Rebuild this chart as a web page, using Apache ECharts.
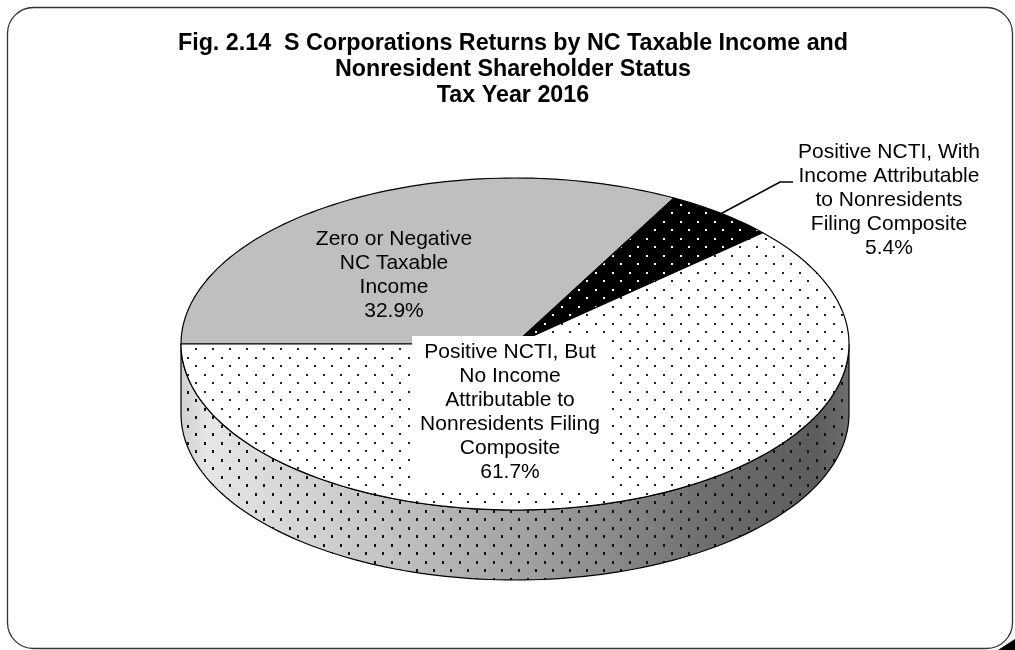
<!DOCTYPE html>
<html>
<head>
<meta charset="utf-8">
<script src="https://cdn.jsdelivr.net/npm/echarts@6/dist/echarts.min.js"></script>
<style>
  html, body { margin: 0; padding: 0; background: #fff; }
  #chart { width: 1015px; height: 650px; }
</style>
</head>
<body>
<div id="chart"></div>
<script>
// slice names as they are wrapped on the chart
const SLICE_NAMES = [
  "Zero or Negative\nNC Taxable\nIncome",
  "Positive NCTI, With\nIncome Attributable\nto Nonresidents\nFiling Composite",
  "Positive NCTI, But\nNo Income\nAttributable to\nNonresidents Filing\nComposite",
];
const SLICE_SHARES = [32.9, 5.4, 61.7];

const TITLE_LINES = [
  "Fig. 2.14  S Corporations Returns by NC Taxable Income and",
  "Nonresident Shareholder Status",
  "Tax Year 2016",
];

// layout (pixels) - kept apart from the data
const PIE = { cx: 515, cy: 344, rx: 334, ry: 166, depth: 70, startAngle: 180 };
const LABEL_OFFSETS = [[-121, -69], [374, -144], [-5, 68]];
const FONT = "'Liberation Sans', Arial, sans-serif";

function dotPattern(bg, dot, dotW, dotH) {
  const c = document.createElement("canvas");
  c.width = 17;
  c.height = 17;
  const ctx = c.getContext("2d");
  if (bg) {
    ctx.fillStyle = bg;
    ctx.fillRect(0, 0, 17, 17);
  }
  ctx.fillStyle = dot;
  ctx.fillRect(0, 0, dotW, dotH);
  ctx.fillRect(8, 8, dotW, dotH);
  return { image: c, repeat: "repeat" };
}

const FILLS = [
  "#bfbfbf",
  dotPattern("#000", "#fff", 2, 2),
  dotPattern("#fff", "#222", 2, 2),
];
const WALL_DOTS = dotPattern(null, "#111", 2, 3);
const WALL_SHADE = new echarts.graphic.LinearGradient(0, 0, 1, 0, [
  { offset: 0, color: "#d0d0d0" },
  { offset: 0.04, color: "#e6e6e6" },
  { offset: 0.3, color: "#c4c4c4" },
  { offset: 0.55, color: "#9c9c9c" },
  { offset: 0.8, color: "#6c6c6c" },
  { offset: 0.95, color: "#5c5c5c" },
  { offset: 1, color: "#6e6e6e" },
]);

const total = SLICE_SHARES.reduce((a, b) => a + b, 0);
const cumulative = SLICE_SHARES.map((_, i) =>
  SLICE_SHARES.slice(0, i).reduce((a, b) => a + b, 0)
);

function ellipsePt(deg, dy) {
  const r = (deg * Math.PI) / 180;
  return [PIE.cx + PIE.rx * Math.cos(r), PIE.cy - PIE.ry * Math.sin(r) + (dy || 0)];
}

function arcPts(a0, a1, dy) {
  const n = Math.max(2, Math.ceil(Math.abs(a0 - a1) / 1.5));
  const pts = [];
  for (let k = 0; k <= n; k++) pts.push(ellipsePt(a0 + ((a1 - a0) * k) / n, dy));
  return pts;
}

function renderSlice(params, api) {
  const i = params.dataIndex;
  const value = api.value(0);
  const a0 = PIE.startAngle - (360 * cumulative[i]) / total;
  const a1 = a0 - (360 * value) / total;
  const children = [];

  // front wall (visible part lies in the lower half of the ellipse)
  const hi = Math.min(a0, 0);
  const lo = Math.max(a1, -180);
  if (hi > lo) {
    const wall = arcPts(hi, lo, 0).concat(arcPts(lo, hi, PIE.depth));
    children.push({
      type: "polygon",
      shape: { points: wall },
      style: { fill: WALL_SHADE, stroke: null },
    });
    children.push({
      type: "polygon",
      shape: { points: wall },
      style: { fill: WALL_DOTS, stroke: "#000", lineWidth: 1.2 },
    });
  }

  // top face
  const face = [[PIE.cx, PIE.cy]].concat(arcPts(a0, a1, 0));
  children.push({
    type: "polygon",
    shape: { points: face },
    style: { fill: FILLS[i], stroke: "#000", lineWidth: 1.2, lineJoin: "round" },
  });

  const off = LABEL_OFFSETS[i];
  const lx = PIE.cx + off[0];
  const ly = PIE.cy + off[1];
  const text = SLICE_NAMES[i] + "\n" + value.toFixed(1) + "%";

  // the small slice gets its label outside with a leader line
  if (i === 1) {
    const edge = ellipsePt((a0 + a1) / 2, 0);
    children.push({
      type: "polyline",
      z2: 20,
      shape: { points: [[lx - 96, ly - 18], [lx - 109, ly - 18], edge] },
      style: { stroke: "#000", lineWidth: 1.5, fill: null },
    });
  }

  children.push({
    type: "text",
    x: lx,
    y: ly,
    z2: 30,
    style: {
      text: text,
      fill: "#000",
      fontSize: 21,
      fontFamily: FONT,
      align: "center",
      verticalAlign: "middle",
      lineHeight: 24,
      backgroundColor: i === 2 ? "#fff" : null,
      padding: i === 2 ? [4, 8] : 0,
    },
  });

  return { type: "group", children: children };
}

const chart = echarts.init(document.getElementById("chart"), null, { renderer: "canvas" });

chart.setOption({
  animation: false,
  backgroundColor: "#fff",
  title: {
    text: TITLE_LINES.join("\n"),
    left: 513,
    top: 31,
    padding: 0,
    textAlign: "center",
    textStyle: {
      fontFamily: FONT,
      fontSize: 23.3,
      fontWeight: "bold",
      lineHeight: 26,
      color: "#000",
    },
  },
  graphic: [
    {
      type: "rect",
      shape: { x: 7.5, y: 7.5, width: 1005, height: 641, r: 26 },
      style: { fill: "#fff", stroke: "#333", lineWidth: 1.3 },
    },
    {
      type: "polygon",
      shape: { points: [[998, 650], [1015, 650], [1015, 639]] },
      style: { fill: "#000" },
    },
  ],
  series: [
    {
      type: "custom",
      coordinateSystem: "none",
      silent: true,
      renderItem: renderSlice,
      data: SLICE_SHARES.map((v, i) => ({ name: SLICE_NAMES[i], value: [v] })),
    },
  ],
});

window.addEventListener("resize", () => chart.resize());
</script>
</body>
</html>
